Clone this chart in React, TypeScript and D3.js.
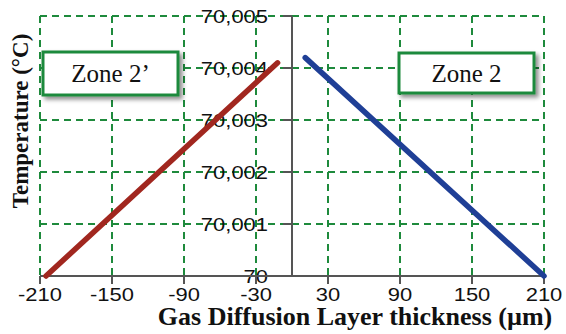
import React from "react";
import * as d3 from "d3";

const xTicks = [-210, -150, -90, -30, 30, 90, 150, 210];
const yTicks = [70, 70.001, 70.002, 70.003, 70.004, 70.005];
const yTickLabels = ["70", "70,001", "70,002", "70,003", "70,004", "70,005"];
const zone2pX = [-205, -12];
const zone2pY = [70, 70.0041];
const zone2X = [11, 210];
const zone2Y = [70.0042, 70];
const zoneLabels = ["Zone 2\u2019", "Zone 2"];

const W = 566, H = 334;
const left = 40, right = 544, top = 16, bottom = 276;

export default function App() {
  const x = d3.scaleLinear().domain([-210, 210]).range([left, right]);
  const y = d3.scaleLinear().domain([70, 70.005]).range([bottom, top]);
  const line = d3.line<[number, number]>().x(d => x(d[0])).y(d => y(d[1]));
  const redPts: [number, number][] = zone2pX.map((v, i) => [v, zone2pY[i]]);
  const bluePts: [number, number][] = zone2X.map((v, i) => [v, zone2Y[i]]);
  const green = "#1e8a3c";
  const axisColor = "#555";
  const tickFont = "'Liberation Sans', Arial, sans-serif";
  const serif = "'Liberation Serif', 'Times New Roman', serif";
  const sx = 1.22;

  const boxes = [
    { x0: 43, y0: 52, w: 135, h: 43, label: zoneLabels[0] },
    { x0: 399, y0: 53, w: 135, h: 40, label: zoneLabels[1] },
  ];

  return (
    <svg width={W} height={H} style={{ position: "absolute", left: 0, top: 0, background: "#fff" }}>
      <defs>
        <filter id="sh" x="-10%" y="-20%" width="130%" height="160%">
          <feDropShadow dx="3" dy="3" stdDeviation="2" floodColor="#000" floodOpacity="0.45" />
        </filter>
      </defs>
      <rect width={W} height={H} fill="#fff" />
      {/* grid */}
      {xTicks.map(t => (
        <line key={"gx" + t} x1={x(t)} x2={x(t)} y1={top} y2={bottom} stroke={green} strokeWidth={2} strokeDasharray="7,5" />
      ))}
      {yTicks.slice(1).map(t => (
        <line key={"gy" + t} x1={left} x2={right} y1={y(t)} y2={y(t)} stroke={green} strokeWidth={2} strokeDasharray="7,5" />
      ))}
      {/* y axis at x=0 */}
      <line x1={x(0)} x2={x(0)} y1={top} y2={bottom} stroke={axisColor} strokeWidth={2} />
      {yTicks.map((t, i) => (
        <g key={"yt" + t}>
          <line x1={x(0) - 9} x2={x(0)} y1={y(t)} y2={y(t)} stroke={axisColor} strokeWidth={2} />
          <text transform={`translate(${x(0) - 24},${y(t) + 1}) scale(${sx},1)`} dy="0.35em" textAnchor="end" fontFamily={tickFont} fontSize={18} fill="#111">
            {yTickLabels[i]}
          </text>
        </g>
      ))}
      {/* x axis */}
      <line x1={left} x2={right} y1={bottom} y2={bottom} stroke={axisColor} strokeWidth={2} />
      {xTicks.map(t => (
        <g key={"xt" + t}>
          <line x1={x(t)} x2={x(t)} y1={bottom} y2={bottom + 8} stroke={axisColor} strokeWidth={2} />
          <text transform={`translate(${x(t)},${301}) scale(${sx},1)`} textAnchor="middle" fontFamily={tickFont} fontSize={18} fill="#111">
            {t}
          </text>
        </g>
      ))}
      {/* data lines */}
      <path d={line(redPts) || ""} stroke="#a1271f" strokeWidth={5.5} fill="none" strokeLinecap="round" />
      <path d={line(bluePts) || ""} stroke="#1f3f96" strokeWidth={5.5} fill="none" strokeLinecap="round" />
      {/* zone boxes */}
      {boxes.map(b => (
        <g key={b.label}>
          <rect x={b.x0} y={b.y0} width={b.w} height={b.h} fill="#fff" stroke={green} strokeWidth={3} filter="url(#sh)" />
          <text x={b.x0 + b.w / 2} y={b.y0 + b.h / 2} dy="0.35em" textAnchor="middle" fontFamily={serif} fontSize={25} fill="#111">
            {b.label}
          </text>
        </g>
      ))}
      {/* axis titles */}
      <text x={355} y={325} textAnchor="middle" fontFamily={serif} fontWeight="bold" fontSize={26} fill="#111">
        Gas Diffusion Layer thickness (µm)
      </text>
      <text transform={`translate(28,${121}) rotate(-90)`} textAnchor="middle" fontFamily={serif} fontWeight="bold" fontSize={23} fill="#111">
        Temperature (°C)
      </text>
    </svg>
  );
}
